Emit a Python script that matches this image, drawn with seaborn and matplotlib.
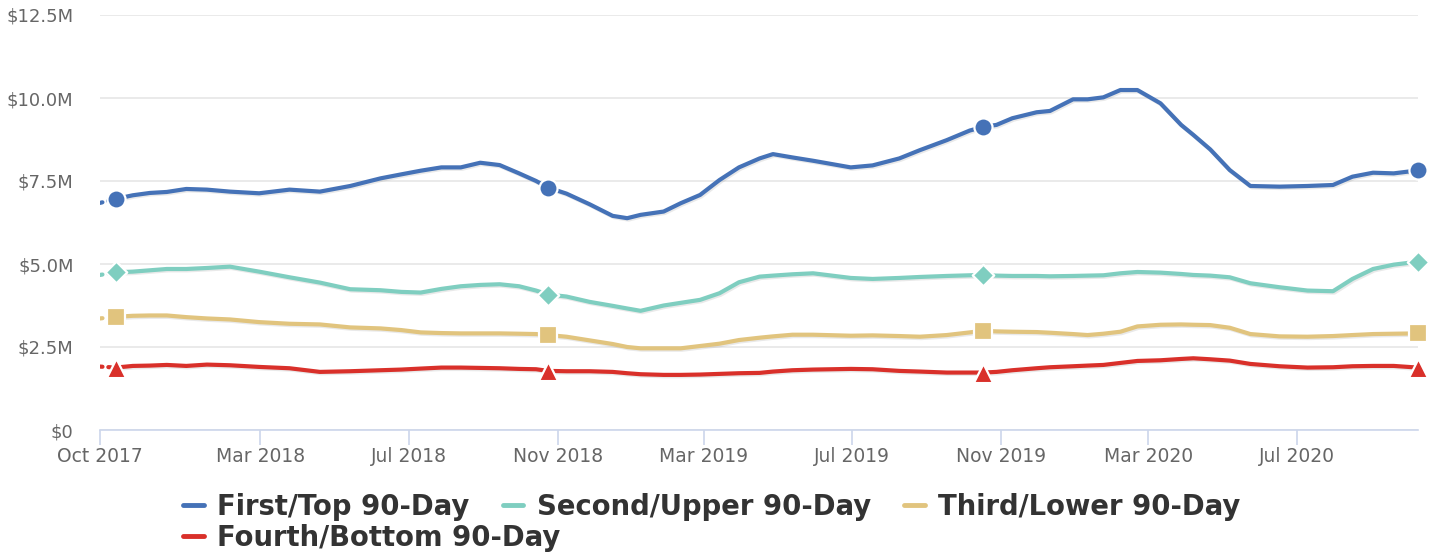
import matplotlib
matplotlib.use("Agg")
import matplotlib.pyplot as plt
import matplotlib.patheffects as pe
from matplotlib.lines import Line2D
from matplotlib.ticker import FuncFormatter
import pandas as pd
import seaborn as sns

# ---------------- data (values in $ millions) ----------------
dates = [
    "2017-10-20", "2017-11-02", "2017-11-16", "2017-11-30", "2017-12-14", "2017-12-30",
    "2018-01-16", "2018-02-04", "2018-02-28", "2018-03-25", "2018-04-19", "2018-05-14",
    "2018-06-08", "2018-06-25", "2018-07-11", "2018-07-28", "2018-08-13", "2018-08-29",
    "2018-09-14", "2018-09-30", "2018-10-14", "2018-10-24", "2018-11-08", "2018-11-27",
    "2018-12-16", "2018-12-28", "2019-01-08", "2019-01-27", "2019-02-10", "2019-02-26",
    "2019-03-14", "2019-03-30", "2019-04-16", "2019-04-27", "2019-05-13", "2019-05-30",
    "2019-06-30", "2019-07-18", "2019-08-09", "2019-08-26", "2019-09-17", "2019-10-06",
    "2019-10-17", "2019-10-28", "2019-11-10", "2019-11-30", "2019-12-11", "2019-12-30",
    "2020-01-11", "2020-01-24", "2020-02-07", "2020-02-21", "2020-03-11", "2020-03-28",
    "2020-04-07", "2020-04-21", "2020-05-07", "2020-05-24", "2020-06-17", "2020-07-10",
    "2020-07-31", "2020-08-16", "2020-09-02", "2020-09-19", "2020-10-09",
]

first_top = [
    6.84, 6.96, 7.07, 7.14, 7.17, 7.26, 7.24, 7.18, 7.13, 7.24, 7.18, 7.35,
    7.58, 7.70, 7.81, 7.91, 7.91, 8.05, 7.98, 7.73, 7.50, 7.30, 7.12, 6.80,
    6.45, 6.38, 6.48, 6.58, 6.83, 7.08, 7.53, 7.91, 8.18, 8.31, 8.21, 8.11,
    7.91, 7.97, 8.18, 8.43, 8.73, 9.02, 9.13, 9.19, 9.39, 9.57, 9.61, 9.96,
    9.96, 10.02, 10.24, 10.24, 9.84, 9.19, 8.89, 8.45, 7.83, 7.35, 7.33, 7.35,
    7.38, 7.63, 7.75, 7.73, 7.82,
]
second_upper = [
    4.67, 4.75, 4.77, 4.81, 4.85, 4.85, 4.88, 4.92, 4.77, 4.60, 4.44, 4.24,
    4.21, 4.16, 4.14, 4.25, 4.33, 4.37, 4.39, 4.33, 4.20, 4.08, 4.02, 3.86,
    3.74, 3.66, 3.59, 3.75, 3.83, 3.92, 4.12, 4.45, 4.62, 4.65, 4.69, 4.72,
    4.58, 4.55, 4.58, 4.61, 4.64, 4.66, 4.67, 4.65, 4.64, 4.64, 4.63, 4.64,
    4.65, 4.66, 4.72, 4.76, 4.74, 4.70, 4.67, 4.65, 4.60, 4.42, 4.30, 4.20,
    4.18, 4.55, 4.85, 4.98, 5.07,
]
third_lower = [
    3.36, 3.41, 3.44, 3.45, 3.45, 3.40, 3.36, 3.33, 3.25, 3.20, 3.18, 3.09,
    3.06, 3.01, 2.94, 2.92, 2.91, 2.91, 2.91, 2.90, 2.89, 2.86, 2.81, 2.70,
    2.59, 2.50, 2.46, 2.46, 2.46, 2.53, 2.60, 2.71, 2.78, 2.82, 2.87, 2.87,
    2.84, 2.85, 2.83, 2.81, 2.86, 2.94, 2.99, 2.97, 2.96, 2.95, 2.93, 2.89,
    2.86, 2.90, 2.96, 3.12, 3.17, 3.18, 3.17, 3.16, 3.08, 2.89, 2.82, 2.81,
    2.83, 2.86, 2.89, 2.90, 2.91,
]
fourth_bottom = [
    1.91, 1.88, 1.93, 1.94, 1.96, 1.93, 1.97, 1.95, 1.90, 1.86, 1.75, 1.77,
    1.80, 1.82, 1.85, 1.88, 1.88, 1.87, 1.86, 1.84, 1.83, 1.78, 1.77, 1.77,
    1.75, 1.71, 1.68, 1.66, 1.66, 1.67, 1.69, 1.71, 1.72, 1.76, 1.80, 1.82,
    1.84, 1.83, 1.78, 1.76, 1.73, 1.73, 1.73, 1.75, 1.80, 1.86, 1.89, 1.92,
    1.94, 1.96, 2.02, 2.08, 2.10, 2.14, 2.16, 2.13, 2.09, 1.99, 1.92, 1.88,
    1.89, 1.92, 1.93, 1.93, 1.88,
]

series_names = ["First/Top 90-Day", "Second/Upper 90-Day", "Third/Lower 90-Day", "Fourth/Bottom 90-Day"]
marker_dates = ["2017-11-02", "2018-10-24", "2019-10-17", "2020-10-09"]

x_tick_dates = ["2017-10-20", "2018-03-01", "2018-07-01", "2018-11-01", "2019-03-01",
                "2019-07-01", "2019-11-01", "2020-03-01", "2020-07-01"]
x_tick_labels = ["Oct 2017", "Mar 2018", "Jul 2018", "Nov 2018", "Mar 2019",
                 "Jul 2019", "Nov 2019", "Mar 2020", "Jul 2020"]
y_ticks = [0, 2.5, 5.0, 7.5, 10.0, 12.5]

# ---------------- style ----------------
colors = ["#4572b7", "#7fcec0", "#e1c47e", "#d9302a"]
markers = ["o", "D", "s", "^"]
msizes = [170, 120, 170, 190]

sns.set_theme(style="white")
plt.rcParams["font.family"] = ["DejaVu Sans"]

fig = plt.figure(figsize=(14.32, 5.52), dpi=100)
ax = fig.add_axes([100 / 1432, 1 - 430 / 552, 1318 / 1432, 415 / 552])

all_vals = [first_top, second_upper, third_lower, fourth_bottom]
dts = pd.to_datetime(dates)
mset = set(pd.to_datetime(marker_dates))

shadow = [pe.SimpleLineShadow(offset=(1.0, -1.0), shadow_color="#888888", alpha=0.18),
          pe.Normal()]

for name, vals, col, mk, ms in zip(series_names, all_vals, colors, markers, msizes):
    df = pd.DataFrame({"date": dts, "value": vals})
    # solid part
    sns.lineplot(data=df.iloc[1:], x="date", y="value", color=col, linewidth=3.0,
                 ax=ax, legend=False, zorder=3, path_effects=shadow,
                 solid_capstyle="round", solid_joinstyle="round")
    # dotted leading part
    sns.lineplot(data=df.iloc[:2], x="date", y="value", color=col, linewidth=3.0,
                 ax=ax, legend=False, zorder=3, linestyle=(0, (0.6, 1.4)),
                 dash_capstyle="round")
    mdf = df[df["date"].isin(mset)]
    sns.scatterplot(data=mdf, x="date", y="value", marker=mk, s=ms, color=col,
                    edgecolor="white", linewidth=1.6, ax=ax, legend=False,
                    zorder=5, clip_on=False)

ax.set_xlim(pd.Timestamp("2017-10-20"), pd.Timestamp("2020-10-09"))
ax.set_ylim(0, 12.5)
ax.set_xlabel("")
ax.set_ylabel("")

ax.set_xticks(pd.to_datetime(x_tick_dates))
ax.set_xticklabels(x_tick_labels)
ax.set_yticks(y_ticks)
ax.yaxis.set_major_formatter(FuncFormatter(lambda v, p: "$0" if v == 0 else f"${v:.1f}M"))

ax.yaxis.grid(True, color="#e6e6e6", linewidth=1.2)
ax.xaxis.grid(False)
ax.set_axisbelow(True)
for s in ["top", "right", "left"]:
    ax.spines[s].set_visible(False)
ax.spines["bottom"].set_color("#ccd6eb")
ax.spines["bottom"].set_linewidth(1.2)

ax.tick_params(axis="x", which="major", length=11, width=1.2, color="#ccd6eb",
               labelsize=13.5, labelcolor="#666666", pad=1, bottom=True)
ax.tick_params(axis="y", length=0, labelsize=13, labelcolor="#666666", pad=19)

# ---------------- legend ----------------
handles = [Line2D([0], [0], color=c, linewidth=3.5) for c in colors]
leg_kw = dict(frameon=False, prop={"weight": "bold", "size": 19.8},
              handlelength=0.75, handletextpad=0.5, borderpad=0,
              borderaxespad=0, columnspacing=1.2, labelcolor="#333333")
leg1 = fig.legend(handles[:3], series_names[:3], loc="center left",
                  bbox_to_anchor=(183 / 1432, 1 - 507 / 552), ncol=3, **leg_kw)
leg2 = fig.legend(handles[3:], series_names[3:], loc="center left",
                  bbox_to_anchor=(183 / 1432, 1 - 538 / 552), ncol=1, **leg_kw)

fig.savefig("out.png", dpi=100)
